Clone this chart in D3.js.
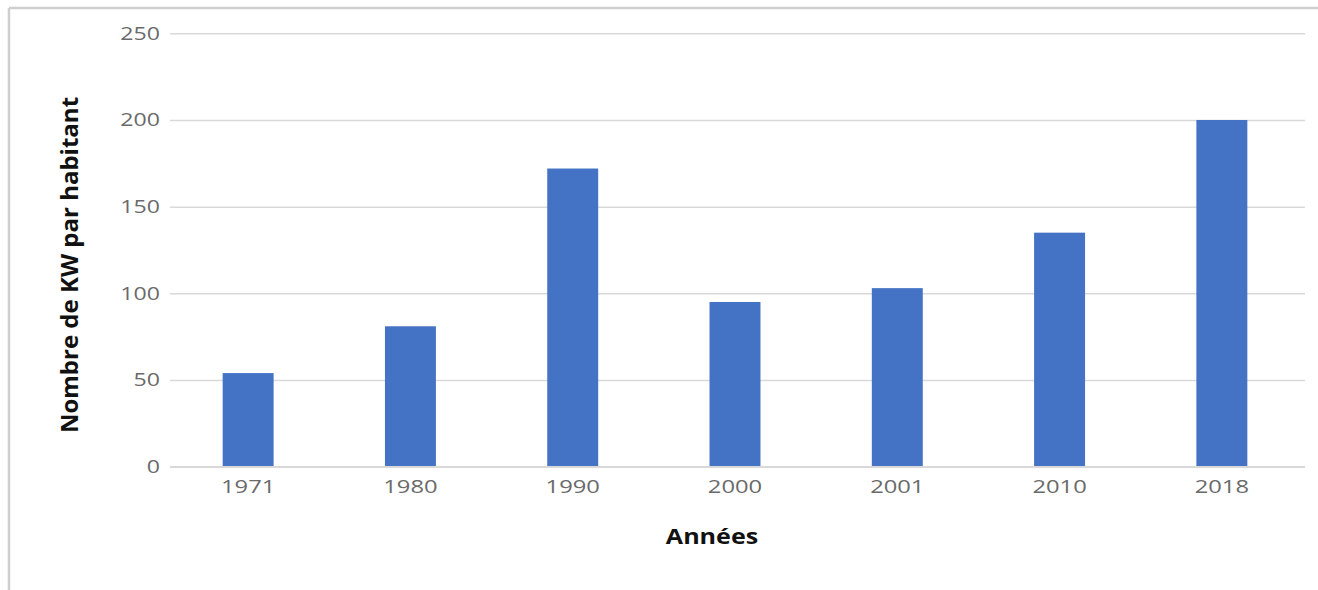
<!DOCTYPE html>
<html><head><meta charset="utf-8">
<script src="https://cdn.jsdelivr.net/npm/d3@7"></script>
<style>html,body{margin:0;padding:0;background:#fff;}svg{display:block;}</style>
</head><body>
<svg id="chart" width="1318" height="590"></svg>
<script>
const categories = ["1971","1980","1990","2000","2001","2010","2018"];
const values = [54, 81, 172, 95, 103, 135, 200];
const yTicks = [0, 50, 100, 150, 200, 250];
const yTitle = "Nombre de KW par habitant";
const xTitle = "Années";

const svg = d3.select("#chart");
const font = "'Open Sans', Lato, sans-serif";

// frame
svg.append("line").attr("x1",9).attr("x2",1318).attr("y1",8).attr("y2",8).attr("stroke","#cfcfcf").attr("stroke-width",2.5);
svg.append("line").attr("x1",9).attr("x2",9).attr("y1",8).attr("y2",590).attr("stroke","#cfcfcf").attr("stroke-width",2.5);

const x = d3.scaleBand().domain(categories).range([167, 1303]).paddingInner(0.686).paddingOuter(0.343);
const y = d3.scaleLinear().domain([0, 250]).range([466.7, 33.3]);

// gridlines
const yAxis = d3.axisLeft(y).tickValues(yTicks).tickSize(-(1305-170)).tickPadding(10);
const gy = svg.append("g").attr("transform","translate(170,0)").call(yAxis);
gy.select(".domain").remove();
gy.selectAll(".tick line").attr("stroke","#d9d9d9").attr("stroke-width",1.5);
gy.selectAll(".tick text").attr("fill","#6a6a6a").attr("font-family",font).attr("font-size",18.5)
  .attr("x",-8).attr("transform","scale(1.25,1)");

// bars
svg.append("g").selectAll("rect").data(values).join("rect")
  .attr("x",(d,i)=>x(categories[i]))
  .attr("y",d=>y(d))
  .attr("width",x.bandwidth())
  .attr("height",d=>y(0)-y(d))
  .attr("fill","#4472C4");

// x axis
const xAxis = d3.axisBottom(x).tickSize(0).tickPadding(13);
const gx = svg.append("g").attr("transform",`translate(0,${y(0)})`).call(xAxis);
gx.select(".domain").attr("stroke","#d9d9d9").attr("stroke-width",1.5).attr("d","M170,0H1305");
gx.selectAll(".tick text").attr("fill","#6a6a6a").attr("font-family",font).attr("font-size",19)
  .attr("transform","scale(1.25,1)");

// titles
svg.append("text").attr("transform","translate(78,265) rotate(-90)").attr("text-anchor","middle")
  .attr("font-family",font).attr("font-weight","bold").attr("font-size",24).attr("fill","#111").text(yTitle);
svg.append("text").attr("transform","translate(712,544) scale(1.14,1)").attr("text-anchor","middle")
  .attr("font-family",font).attr("font-weight","bold").attr("font-size",22).attr("fill","#111").text(xTitle);
</script>
</body></html>
